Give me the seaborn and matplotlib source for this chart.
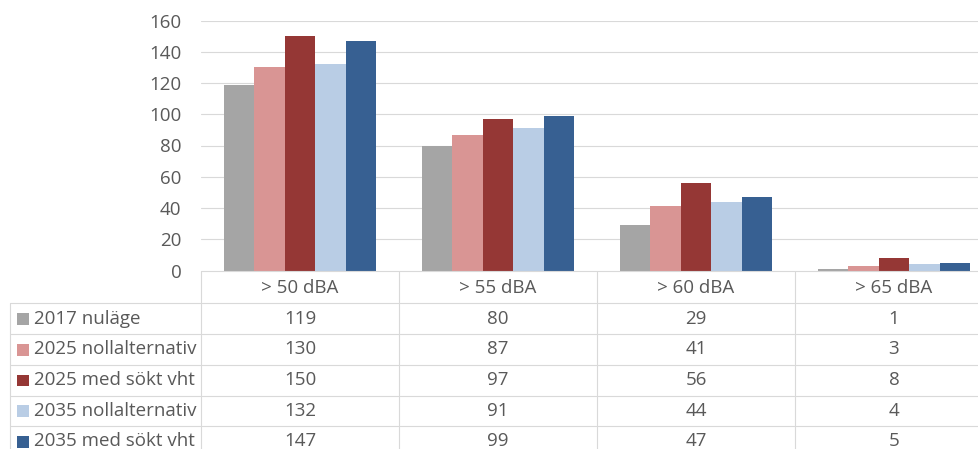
import matplotlib
matplotlib.use("Agg")
import matplotlib.pyplot as plt
import seaborn as sns
import pandas as pd

# Noise exposure classes and number of exposed residents per scenario
categories = ["> 50 dBA", "> 55 dBA", "> 60 dBA", "> 65 dBA"]
series = ["2017 nuläge", "2025 nollalternativ", "2025 med sökt vht",
          "2035 nollalternativ", "2035 med sökt vht"]
v2017_nulage = [119, 80, 29, 1]
v2025_noll = [130, 87, 41, 3]
v2025_sokt = [150, 97, 56, 8]
v2035_noll = [132, 91, 44, 4]
v2035_sokt = [147, 99, 47, 5]
yticks = [0, 20, 40, 60, 80, 100, 120, 140, 160]

colors = ["#A5A5A5", "#D99594", "#953735", "#B9CDE5", "#376092"]
text_col = "#595959"
line_col = "#D9D9D9"
fs = 13.5

values = [v2017_nulage, v2025_noll, v2025_sokt, v2035_noll, v2035_sokt]
rows = []
for name, vals in zip(series, values):
    for cat, v in zip(categories, vals):
        rows.append({"kategori": cat, "scenario": name, "antal": v})
df = pd.DataFrame(rows)

sns.set_theme(style="white")
plt.rcParams["font.family"] = ["Open Sans", "DejaVu Sans"]

W, H = 979, 449
fig = plt.figure(figsize=(W / 100, H / 100), dpi=100)

# pixel-based layout helpers
x0, x_cat = 201, 198.0
y_zero, y_top = 270.5, 20.5
ax = fig.add_axes([x0 / W, (H - y_zero) / H, 4 * x_cat / W, (y_zero - y_top) / H])

sns.barplot(data=df, x="kategori", y="antal", hue="scenario", order=categories,
            hue_order=series, palette=colors, saturation=1, width=0.77, gap=0,
            linewidth=0, legend=False, ax=ax)
ax.set_xlim(-0.5, 3.5)
ax.set_ylim(0, 160)
ax.set_yticks(yticks)
ax.set_yticklabels([str(t) for t in yticks], color=text_col, fontsize=fs)
ax.tick_params(axis="y", length=0, pad=14)
ax.set_xticks([])
ax.set_xlabel("")
ax.set_ylabel("")
for s in ax.spines.values():
    s.set_visible(False)
for t in yticks[1:]:
    ax.axhline(t, color=line_col, lw=0.8, zorder=0)
ax.set_axisbelow(True)

# Data table beneath the plot, sharing the category x positions
tab = fig.add_axes([x0 / W, 0, 4 * x_cat / W, 1])
tab.set_xlim(-0.5, 3.5)
tab.set_ylim(H, 0)
tab.axis("off")
lab_left = -0.5 - (x0 - 10) / x_cat
row_lines = [303, 334, 365, 395.7, 426, 457]

tab.plot([-0.5, 3.5], [y_zero, y_zero], color=line_col, lw=0.8, clip_on=False)
for y in row_lines[:-1]:
    tab.plot([lab_left, 3.5], [y, y], color=line_col, lw=0.8, clip_on=False)
for xv in [-0.5, 0.5, 1.5, 2.5, 3.5]:
    tab.plot([xv, xv], [y_zero, H + 5], color=line_col, lw=0.8, clip_on=False)
tab.plot([lab_left, lab_left], [303, H + 5], color=line_col, lw=0.8, clip_on=False)

for i, cat in enumerate(categories):
    tab.text(i, (y_zero + 303) / 2 + 1, cat, ha="center", va="center",
             color=text_col, fontsize=fs, clip_on=False)

key_w = 11.5 / x_cat
for r, (name, vals, c) in enumerate(zip(series, values, colors)):
    yc = (row_lines[r] + row_lines[r + 1]) / 2
    kx = lab_left + 7 / x_cat
    tab.add_patch(plt.Rectangle((kx, yc - 5.5), key_w, 11.5, color=c,
                                clip_on=False, lw=0))
    tab.text(lab_left + 24 / x_cat, yc, name, ha="left", va="center",
             color=text_col, fontsize=fs, clip_on=False)
    for i, v in enumerate(vals):
        tab.text(i, yc, str(v), ha="center", va="center",
                 color=text_col, fontsize=fs, clip_on=False)

fig.savefig("out.png", dpi=100)
